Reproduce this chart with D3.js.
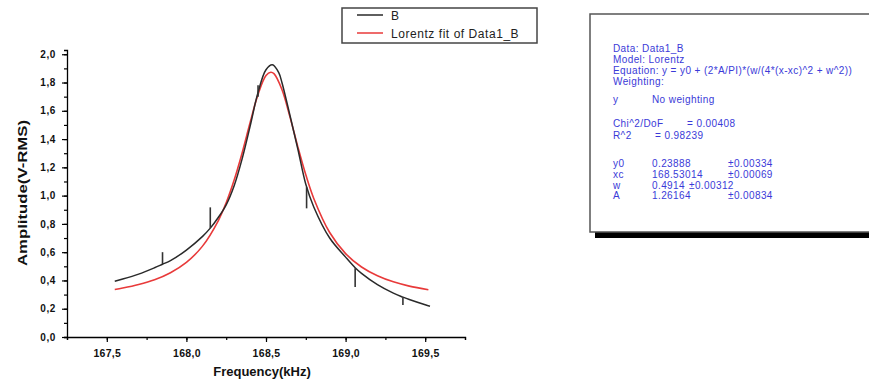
<!DOCTYPE html>
<html>
<head>
<meta charset="utf-8">
<script src="https://cdn.jsdelivr.net/npm/d3@7"></script>
<style>
  html, body { margin: 0; padding: 0; background: #fff; }
  svg { display: block; }
  text { font-family: "Liberation Sans", Arial, sans-serif; }
</style>
</head>
<body>
<svg id="chart" width="869" height="383"></svg>
<script>
// Measured amplitude (series "B")
const bFreq = [167.55, 167.6, 167.7, 167.8, 167.85, 167.9, 168.0, 168.1, 168.15, 168.2, 168.25, 168.3, 168.35, 168.4, 168.45, 168.5, 168.54, 168.58, 168.6, 168.65, 168.7, 168.75, 168.8, 168.9, 169.0, 169.06, 169.1, 169.2, 169.3, 169.36, 169.4, 169.5, 169.53];
const bAmp  = [0.395, 0.41, 0.445, 0.49, 0.515, 0.54, 0.615, 0.71, 0.77, 0.845, 0.935, 1.07, 1.26, 1.49, 1.73, 1.89, 1.925, 1.87, 1.80, 1.57, 1.33, 1.08, 0.92, 0.70, 0.565, 0.49, 0.45, 0.37, 0.31, 0.282, 0.265, 0.228, 0.218];

// Error bars on the measured points
const errFreq = [167.85, 168.15, 168.45, 168.755, 169.06, 169.36];
const errLow  = [0.515, 0.77, 1.70, 0.91, 0.353, 0.226];
const errHigh = [0.60, 0.917, 1.78, 1.06, 0.487, 0.282];

// Lorentz fit curve
const rFreq = [167.55, 167.6, 167.7, 167.8, 167.9, 168.0, 168.1, 168.2, 168.25, 168.3, 168.35, 168.4, 168.45, 168.5, 168.53, 168.55, 168.6, 168.65, 168.7, 168.75, 168.8, 168.9, 169.0, 169.1, 169.2, 169.3, 169.4, 169.52];
const rAmp  = [0.336, 0.346, 0.371, 0.405, 0.455, 0.528, 0.641, 0.822, 0.950, 1.110, 1.302, 1.515, 1.716, 1.849, 1.873, 1.863, 1.751, 1.559, 1.345, 1.147, 0.980, 0.739, 0.590, 0.495, 0.433, 0.390, 0.360, 0.334];

// Axis ticks
const xTicks = [167.5, 168.0, 168.5, 169.0, 169.5];
const xTickLabels = ["167,5", "168,0", "168,5", "169,0", "169,5"];
const yTicks = [0, 0.2, 0.4, 0.6, 0.8, 1.0, 1.2, 1.4, 1.6, 1.8, 2.0];
const yTickLabels = ["0,0", "0,2", "0,4", "0,6", "0,8", "1,0", "1,2", "1,4", "1,6", "1,8", "2,0"];

// Legend and fit report
const legendNames = ["B", "Lorentz fit of Data1_B"];
const reportLines = [
  ["Data: Data1_B"],
  ["Model: Lorentz"],
  ["Equation: y = y0 + (2*A/PI)*(w/(4*(x-xc)^2 + w^2))"],
  ["Weighting:"],
  ["y", "No weighting"],
  ["Chi^2/DoF", "= 0.00408"],
  ["R^2", "= 0.98239"],
  ["y0", "0.23888", "\u00b10.00334"],
  ["xc", "168.53014", "\u00b10.00069"],
  ["w", "0.4914", "\u00b10.00312"],
  ["A", "1.26164", "\u00b10.00834"]
];

const svg = d3.select("#chart");

const x = d3.scaleLinear().domain([167.25, 169.75]).range([67, 465]);
const y = d3.scaleLinear().domain([0, 2.03]).range([337, 50]);

// Axes: minor ticks, then labelled major ticks
const gx = svg.append("g").attr("transform", "translate(0,337)");
gx.call(d3.axisBottom(x).tickValues(d3.range(167.25, 169.76, 0.25)).tickSize(3).tickFormat(""));
gx.select(".domain").attr("stroke", "#000").attr("stroke-width", 1.3);
gx.selectAll(".tick line").attr("stroke", "#000").attr("stroke-width", 1.2);
const gx2 = svg.append("g").attr("transform", "translate(0,337)");
gx2.call(d3.axisBottom(x).tickValues(xTicks).tickSize(5).tickPadding(8)
  .tickFormat((d, i) => xTickLabels[i]));
gx2.select(".domain").remove();
gx2.selectAll(".tick line").attr("stroke", "#000").attr("stroke-width", 1.2);
gx2.selectAll(".tick text").attr("font-size", 10.5).attr("font-weight", "bold")
  .attr("letter-spacing", 0.3).attr("fill", "#111")
  .attr("font-family", "Liberation Sans, Arial, sans-serif");

const gy = svg.append("g").attr("transform", "translate(67,0)");
gy.call(d3.axisLeft(y).tickValues(d3.range(0, 2.031, 0.1)).tickSize(3).tickFormat(""));
gy.select(".domain").attr("stroke", "#000").attr("stroke-width", 1.3);
gy.selectAll(".tick line").attr("stroke", "#000").attr("stroke-width", 1.2);
const gy2 = svg.append("g").attr("transform", "translate(67,0)");
gy2.call(d3.axisLeft(y).tickValues(yTicks).tickSize(5).tickPadding(6)
  .tickFormat((d, i) => yTickLabels[i]));
gy2.select(".domain").remove();
gy2.selectAll(".tick line").attr("stroke", "#000").attr("stroke-width", 1.2);
gy2.selectAll(".tick text").attr("font-size", 10).attr("font-weight", "bold")
  .attr("letter-spacing", 0.6).attr("fill", "#111")
  .attr("font-family", "Liberation Sans, Arial, sans-serif");

// Axis titles
svg.append("text").attr("x", 262).attr("y", 376).attr("text-anchor", "middle")
  .attr("font-size", 13).attr("font-weight", "bold").attr("fill", "#111")
  .text("Frequency(kHz)");
svg.append("text").attr("transform", "translate(27,193) rotate(-90)")
  .attr("text-anchor", "middle").attr("font-size", 13).attr("font-weight", "bold")
  .attr("fill", "#111").attr("textLength", 146).attr("lengthAdjust", "spacingAndGlyphs")
  .text("Amplitude(V-RMS)");

// Curves
const line = d3.line().x(d => x(d[0])).y(d => y(d[1])).curve(d3.curveCatmullRom.alpha(0.5));
svg.append("path").datum(d3.zip(rFreq, rAmp)).attr("d", line)
  .attr("fill", "none").attr("stroke", "#e83a3a").attr("stroke-width", 1.6);
svg.append("path").datum(d3.zip(bFreq, bAmp)).attr("d", line)
  .attr("fill", "none").attr("stroke", "#2a2a2a").attr("stroke-width", 1.5);

// Error bars
svg.append("g").selectAll("line").data(errFreq).join("line")
  .attr("x1", d => x(d)).attr("x2", d => x(d))
  .attr("y1", (d, i) => y(errLow[i])).attr("y2", (d, i) => y(errHigh[i]))
  .attr("stroke", "#333").attr("stroke-width", 1.6);

// Legend
const lg = svg.append("g");
lg.append("rect").attr("x", 342).attr("y", 8).attr("width", 195).attr("height", 35)
  .attr("fill", "#fff").attr("stroke", "#444").attr("stroke-width", 1.5);
const legendColors = ["#2a2a2a", "#e83a3a"];
legendNames.forEach((name, i) => {
  const ly = 15 + i * 18;
  lg.append("line").attr("x1", 357).attr("x2", 383).attr("y1", ly).attr("y2", ly)
    .attr("stroke", legendColors[i]).attr("stroke-width", 1.5);
  lg.append("text").attr("x", 391).attr("y", ly + 4.5).attr("font-size", 12)
    .attr("letter-spacing", 0.55).attr("fill", "#222").text(name);
});

// Fit report box with drop shadow
const rb = svg.append("g");
rb.append("rect").attr("x", 595).attr("y", 19).attr("width", 290).attr("height", 219).attr("fill", "#000");
rb.append("rect").attr("x", 590).attr("y", 14).attr("width", 290).attr("height", 218)
  .attr("fill", "#fff").attr("stroke", "#555").attr("stroke-width", 1.5);
const rowY = [51.5, 62.5, 74, 85, 102.5, 126.5, 138.5, 166.5, 177.5, 188.5, 199];
const colX = {
  4: [613, 652],
  5: [613, 687],
  6: [613, 655],
  7: [613, 652, 728],
  8: [613, 652, 728],
  9: [613, 652, 689],
  10: [613, 652, 728]
};
reportLines.forEach((parts, i) => {
  const xs = colX[i] || [613];
  parts.forEach((t, j) => {
    rb.append("text").attr("x", xs[j]).attr("y", rowY[i]).attr("font-size", 10)
      .attr("letter-spacing", 0.4).attr("fill", "#3a3ad8").text(t);
  });
});
</script>
</body>
</html>
